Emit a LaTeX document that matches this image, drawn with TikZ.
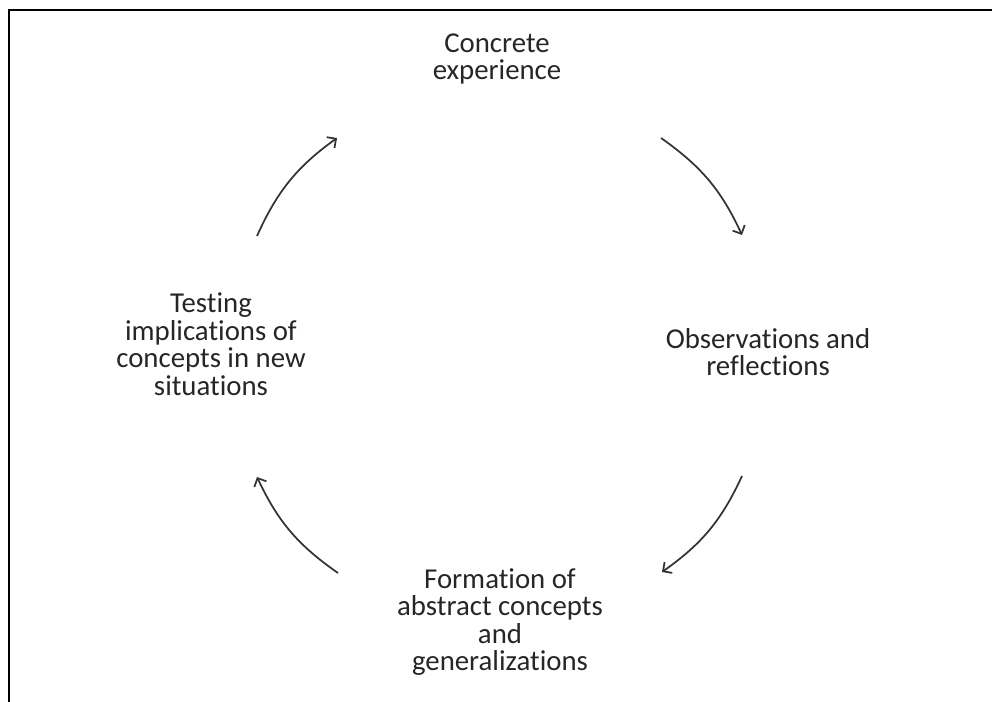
\documentclass[tikz,border=0pt]{standalone}
\usepackage{fontspec}
\setmainfont{Carlito}[Ligatures={NoCommon,NoContextual}]
\usetikzlibrary{arrows.meta}

\begin{document}
\begin{tikzpicture}[x=0.75pt,y=-0.75pt,
  stage/.style={align=center,font=\fontsize{21.6}{20.6}\selectfont,text=black!85},
  cyc/.style={line width=1.3pt,black!80,-{Straight Barb[length=5pt,width=10pt]}}]
\useasboundingbox (0,0) rectangle (992,702);
\draw[line width=1.8pt] (9,702) -- (9,10) -- (992,10);
\node (conc)[stage] at (497,59) {Concrete\\experience};
\node (obs)[stage] at (768,352) {Observations and\\reflections};
\node (form)[stage] at (500,622) {Formation of\\abstract concepts\\and\\generalizations};
\node (test)[stage] at (211,344) {Testing\\implications of\\concepts in new\\situations};
% arrow ends
\coordinate (a1) at (661,138); \coordinate (b1) at (742,235);
\coordinate (a2) at (742,476); \coordinate (b2) at (662,572);
\coordinate (a3) at (338,573); \coordinate (b3) at (257,477);
\coordinate (a4) at (257,236); \coordinate (b4) at (337,138);
\foreach \from/\to in {a1/b1,a2/b2,a3/b3,a4/b4}
\draw[cyc] (\from) to[bend left=15] (\to);
\end{tikzpicture}
\end{document}
